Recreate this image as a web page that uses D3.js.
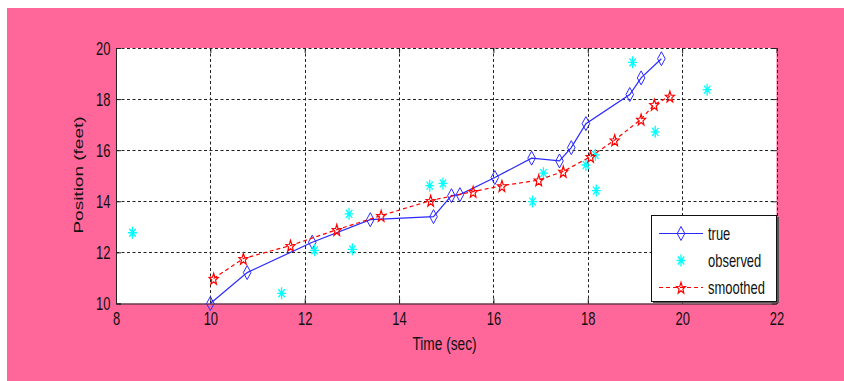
<!DOCTYPE html>
<html><head><meta charset="utf-8">
<script src="https://cdn.jsdelivr.net/npm/d3@7"></script>
<style>html,body{margin:0;padding:0;background:#fff;} svg{display:block;}</style>
</head><body>
<svg id="chart" width="844" height="381"></svg>
<script>
// ---- data ----
const trueTime = [10.0, 10.78, 12.16, 13.39, 14.73, 15.11, 15.29, 16.03, 16.81, 17.40, 17.65, 17.96, 18.89, 19.13, 19.56];
const truePos  = [10.0, 11.21, 12.40, 13.28, 13.40, 14.22, 14.26, 14.93, 15.69, 15.58, 16.10, 17.04, 18.18, 18.83, 19.58];
const obsTime  = [8.35, 11.51, 12.21, 12.94, 13.01, 14.65, 14.93, 16.83, 17.06, 17.96, 18.16, 18.18, 18.95, 19.43, 20.53];
const obsPos   = [12.77, 10.40, 12.08, 13.51, 12.12, 14.61, 14.70, 13.99, 15.10, 15.42, 15.82, 14.42, 19.44, 16.72, 18.37];
const smTime   = [10.07, 10.70, 11.70, 12.68, 13.62, 14.67, 15.57, 16.18, 16.96, 17.48, 18.06, 18.57, 19.13, 19.41, 19.74];
const smPos    = [10.98, 11.76, 12.27, 12.89, 13.44, 14.03, 14.38, 14.61, 14.83, 15.17, 15.75, 16.40, 17.21, 17.79, 18.11];
const xTicks = [8, 10, 12, 14, 16, 18, 20, 22];
const yTicks = [10, 12, 14, 16, 18, 20];
const seriesNames = ["true", "observed", "smoothed"];
const xLabel = "Time (sec)";
const yLabel = "Position (feet)";

// ---- layout ----
const svg = d3.select("#chart");
const FONT = "'Liberation Sans', Arial, sans-serif";
const SX = 0.72;
svg.append("rect").attr("x", 7).attr("y", 8).attr("width", 837).attr("height", 373).attr("fill", "#ff6699");

const x = d3.scaleLinear().domain([8, 22]).range([116, 776.5]);
const y = d3.scaleLinear().domain([10, 20]).range([303.5, 48]);

svg.append("rect").attr("x", x(8)).attr("y", y(20)).attr("width", x(22) - x(8)).attr("height", y(10) - y(20)).attr("fill", "#fff");

// grid
const grid = svg.append("g").attr("stroke", "#222").attr("stroke-width", 1).attr("stroke-dasharray", "3,2.5");
grid.selectAll("line.gx").data(xTicks.filter(d => d > 8)).join("line")
  .attr("x1", d => Math.round(x(d)) + 0.5).attr("x2", d => Math.round(x(d)) + 0.5)
  .attr("y1", y(20)).attr("y2", y(10));
grid.selectAll("line.gy").data(yTicks.filter(d => d > 10)).join("line")
  .attr("y1", d => Math.round(y(d)) + 0.5).attr("y2", d => Math.round(y(d)) + 0.5)
  .attr("x1", x(8)).attr("x2", x(22));

// axes
const xAxis = svg.append("g").attr("transform", `translate(0,${y(10)})`)
  .call(d3.axisBottom(x).tickValues(xTicks).tickSize(-5).tickPadding(9).tickFormat(d3.format("d")));
const xAxisTop = svg.append("g").attr("transform", `translate(0,${y(20)})`)
  .call(d3.axisTop(x).tickValues(xTicks).tickSize(-5).tickFormat(""));
const yAxis = svg.append("g").attr("transform", `translate(${x(8)},0)`)
  .call(d3.axisLeft(y).tickValues(yTicks).tickSize(-5).tickFormat(d3.format("d")));
const yAxisR = svg.append("g").attr("transform", `translate(${x(22)},0)`)
  .call(d3.axisRight(y).tickValues(yTicks).tickSize(-5).tickFormat(""));
[xAxisTop, yAxisR].forEach(g => g.select(".domain").remove());
[xAxis, yAxis, xAxisTop, yAxisR].forEach(g => {
  g.selectAll(".tick line").attr("stroke", "#222");
  g.select(".domain").attr("stroke", "#222");
});
xAxis.selectAll("text").attr("font-family", FONT).attr("font-size", 18).attr("fill", "#111")
  .attr("transform", `scale(${SX},1)`).attr("dy", "0.71em").attr("y", 9);
yAxis.selectAll("text").attr("font-family", FONT).attr("font-size", 18).attr("fill", "#111")
  .attr("x", -5.5 / SX).attr("transform", `scale(${SX},1)`).attr("dy", "0.36em");

// axis labels
svg.append("text").attr("transform", `translate(444.5,350) scale(${SX},1)`)
  .attr("text-anchor", "middle").attr("font-family", FONT).attr("font-size", 19).attr("fill", "#111").text(xLabel);
svg.append("text").attr("transform", `translate(83,175) scale(${SX},1) rotate(-90)`)
  .attr("text-anchor", "middle").attr("font-family", FONT).attr("font-size", 19).attr("fill", "#111").text(yLabel);

// marker generators
function diamondPath(cx, cy) {
  const w = 3.8, h = 7;
  return `M${cx},${cy - h}L${cx + w},${cy}L${cx},${cy + h}L${cx - w},${cy}Z`;
}
function starPath(cx, cy) {
  const R = 6, r = R * 0.42, sx = 0.8;
  let p = "";
  for (let i = 0; i < 10; i++) {
    const rad = i % 2 === 0 ? R : r;
    const a = -Math.PI / 2 + i * Math.PI / 5;
    p += (i === 0 ? "M" : "L") + (cx + rad * Math.cos(a) * sx).toFixed(2) + "," + (cy + rad * Math.sin(a) + 0.8).toFixed(2);
  }
  return p + "Z";
}
function asteriskPath(cx, cy) {
  const h = 6, w = 4.5, d = 4;
  return `M${cx},${cy - h}L${cx},${cy + h}M${cx - w},${cy}L${cx + w},${cy}` +
    `M${cx - d * 0.8},${cy - d}L${cx + d * 0.8},${cy + d}M${cx - d * 0.8},${cy + d}L${cx + d * 0.8},${cy - d}`;
}

const trueData = trueTime.map((t, i) => [t, truePos[i]]);
const obsData = obsTime.map((t, i) => [t, obsPos[i]]);
const smData = smTime.map((t, i) => [t, smPos[i]]);
const line = d3.line().x(d => x(d[0])).y(d => y(d[1]));

const BLUE = "#2a2aff", CYAN = "#00ffff", RED = "#ff0000";

// true
svg.append("path").datum(trueData).attr("d", line).attr("fill", "none").attr("stroke", BLUE).attr("stroke-width", 1.2);
svg.append("g").selectAll("path").data(trueData).join("path")
  .attr("d", d => diamondPath(x(d[0]), y(d[1]))).attr("fill", "none").attr("stroke", BLUE).attr("stroke-width", 1);

// observed
svg.append("g").selectAll("path").data(obsData).join("path")
  .attr("d", d => asteriskPath(x(d[0]), y(d[1]))).attr("fill", "none").attr("stroke", CYAN).attr("stroke-width", 1.3);

// smoothed
svg.append("path").datum(smData).attr("d", line).attr("fill", "none").attr("stroke", RED).attr("stroke-width", 1.2).attr("stroke-dasharray", "4,3");
svg.append("g").selectAll("path").data(smData).join("path")
  .attr("d", d => starPath(x(d[0]), y(d[1]))).attr("fill", "none").attr("stroke", RED).attr("stroke-width", 1.2);

// legend
const lg = svg.append("g");
lg.append("rect").attr("x", 653).attr("y", 217).attr("width", 126).attr("height", 86).attr("fill", "#555");
lg.append("rect").attr("x", 651.5).attr("y", 215.5).attr("width", 125).attr("height", 86).attr("fill", "#fff").attr("stroke", "#111").attr("stroke-width", 1);
const rows = [233.5, 260.5, 287.5];
lg.append("line").attr("x1", 659).attr("x2", 703).attr("y1", rows[0]).attr("y2", rows[0]).attr("stroke", BLUE).attr("stroke-width", 1.2);
lg.append("path").attr("d", diamondPath(681, rows[0])).attr("fill", "none").attr("stroke", BLUE);
lg.append("path").attr("d", asteriskPath(681, rows[1])).attr("fill", "none").attr("stroke", CYAN).attr("stroke-width", 1.3);
lg.append("line").attr("x1", 659).attr("x2", 703).attr("y1", rows[2]).attr("y2", rows[2]).attr("stroke", RED).attr("stroke-width", 1.2).attr("stroke-dasharray", "4,3");
lg.append("path").attr("d", starPath(681, rows[2])).attr("fill", "none").attr("stroke", RED).attr("stroke-width", 1.2);
lg.selectAll("text").data(seriesNames).join("text")
  .attr("transform", (d, i) => `translate(708,${rows[i] + 6}) scale(${SX},1)`)
  .attr("font-family", FONT).attr("font-size", 18).attr("fill", "#111").text(d => d);
</script>
</body></html>
